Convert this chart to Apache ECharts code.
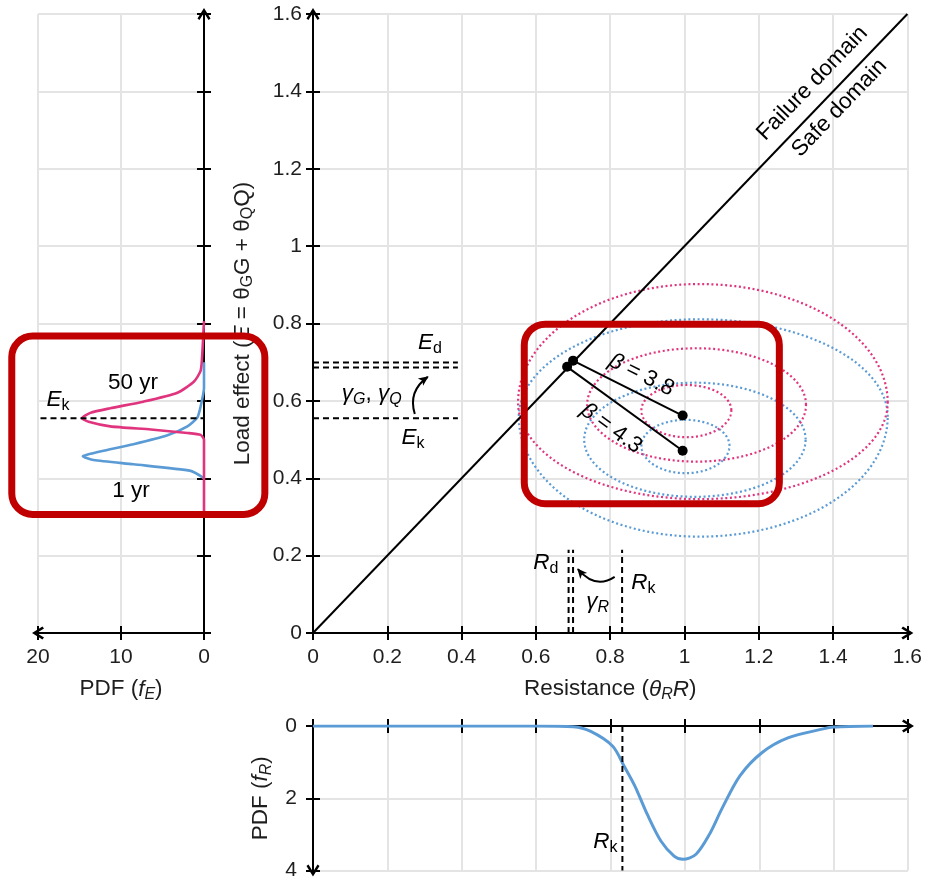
<!DOCTYPE html>
<html><head><meta charset="utf-8">
<script src="https://cdn.jsdelivr.net/npm/echarts@6/dist/echarts.min.js"></script>
<style>html,body{margin:0;padding:0;background:#fff}#c{width:925px;height:881px}</style>
</head><body><div id="c"></div>
<script>
// ---------------- DATA ----------------
const axisMax = 1.6;                 // main plot range (both axes)
const pdfEMax = 20;                  // left panel PDF range
const pdfRMax = 4;                   // bottom panel PDF range
// Load effect PDFs (left panel): [pdf, load effect]
const pdfE50yr = [[0,0.30],[0,0.499],[0.4,0.512],[2.0,0.517],[6.4,0.526],[11.3,0.534],[13.9,0.546],[14.7,0.555],[13.7,0.569],[11.3,0.581],[7.3,0.598],[3.2,0.621],[1.2,0.650],[0.4,0.678],[0.2,0.724],[0,0.806]];
const pdfE1yr  = [[0,0.40],[1.6,0.419],[8.5,0.436],[13.3,0.447],[14.6,0.457],[14.1,0.461],[12.1,0.471],[8.5,0.488],[4.4,0.511],[2.0,0.534],[0.8,0.557],[0.4,0.586],[0,0.633],[0,0.70]];
// Resistance PDF (bottom panel): [resistance, pdf]
const pdfR = [[0,0],[0.60,0],[0.70,0.02],[0.747,0.15],[0.806,0.56],[0.836,1.1],[0.865,1.65],[0.90,2.47],[0.936,3.19],[0.971,3.6],[0.995,3.69],[1.03,3.55],[1.066,3.0],[1.10,2.28],[1.148,1.38],[1.207,0.74],[1.277,0.33],[1.372,0.08],[1.40,0.03],[1.506,0]];
// Joint PDF contours: [cx, cy, rxLeft, rxRight, ryBelow, ryAbove]
const contours50yr = [[1.005,0.576,0.121,0.121,0.070,0.065],[1.032,0.590,0.294,0.295,0.147,0.146],[1.04,0.596,0.488,0.507,0.250,0.306]];
const contours1yr  = [[1.003,0.484,0.119,0.118,0.071,0.067],[1.028,0.500,0.298,0.298,0.148,0.147],[1.04,0.559,0.486,0.507,0.310,0.252]];
// Means and design points
const mean50yr = [0.995, 0.562], design50yr = [0.700, 0.704];
const mean1yr  = [0.995, 0.471], design1yr  = [0.684, 0.688];
// Characteristic / design values
const Ek = 0.555, EdLevels = [0.686, 0.699], EguideEnd = 0.39;
const Rk = 0.832, RdLevels = [0.688, 0.700], RguideEnd = 0.215;
const betaLabels = ['3.8', '4.3'];

// ---------------- STYLE ----------------
const FONT = 'Liberation Sans', TXT = '#1e1e1e', GRIDC = '#e4e4e4';
const PINK = '#E0347E', BLUE = '#5B9BD5';
const FS = 21, FT = 22.5;
const ARROW = 'path://M5,0 L10,8 L8.5,9.2 L5,3.6 L1.5,9.2 L0,8 Z';
function rich(size){
  const sub = Math.round(size*0.7);
  return {
    n:{fontFamily:FONT,fontSize:size,color:TXT,lineHeight:size+4,verticalAlign:'middle'},
    i:{fontFamily:FONT,fontSize:size,fontStyle:'italic',color:TXT,lineHeight:size+4,verticalAlign:'middle'},
    s:{fontFamily:FONT,fontSize:sub,fontStyle:'italic',color:TXT,lineHeight:sub,verticalAlign:'bottom'},
    u:{fontFamily:FONT,fontSize:sub,color:TXT,lineHeight:sub,verticalAlign:'bottom'}
  };
}
const lineBlack = {color:'#000', width:2};
function axisPair(base){
  const sym = base.inverse ? [ARROW,'none'] : ['none',ARROW];
  const main = Object.assign({type:'value'}, base, {
    axisLine:{show:true,onZero:false,lineStyle:lineBlack,symbol:sym,symbolSize:[16,12]},
    axisTick:{show:true,inside:false,length:7,lineStyle:lineBlack},
    splitLine:{show:true,lineStyle:{color:GRIDC,width:2}}
  });
  const dup = {type:'value',gridIndex:base.gridIndex,min:base.min,max:base.max,interval:base.interval,inverse:!!base.inverse,position:base.position,
    axisLine:{show:false},axisTick:{show:true,inside:true,length:7,lineStyle:lineBlack},axisLabel:{show:false},splitLine:{show:false}};
  return [main, dup];
}
const lblStyle = (margin)=>({fontFamily:FONT,fontSize:FS,color:TXT,margin:margin});

const xAxes = [].concat(
  axisPair({gridIndex:0,min:0,max:axisMax,interval:0.2,position:'bottom',axisLabel:lblStyle(14),
    name:'{n|Resistance (}{i|θ}{s|R}{i|R}{n|)}',nameLocation:'middle',nameGap:43,nameTextStyle:{rich:rich(FT)}}),
  axisPair({gridIndex:1,min:0,max:pdfEMax,interval:10,inverse:true,position:'bottom',axisLabel:lblStyle(14),
    name:'{n|PDF (}{i|f}{s|E}{n|)}',nameLocation:'middle',nameGap:43,nameTextStyle:{rich:rich(FT)}}),
  axisPair({gridIndex:2,min:0,max:axisMax,interval:0.2,position:'top',axisLabel:{show:false}})
);
const yAxes = [].concat(
  axisPair({gridIndex:0,min:0,max:axisMax,interval:0.2,position:'left',axisLabel:lblStyle(11),
    name:'{n|Load effect (}{i|E}{n| = θ}{u|G}{n|G + θ}{u|Q}{n|Q)}',nameLocation:'middle',nameGap:57,nameTextStyle:{rich:rich(FT)}}),
  axisPair({gridIndex:1,min:0,max:axisMax,interval:0.2,position:'right',axisLabel:{show:false}}),
  axisPair({gridIndex:2,min:0,max:pdfRMax,interval:2,inverse:true,position:'left',axisLabel:lblStyle(16),
    name:'{n|PDF (}{i|f}{s|R}{n|)}',nameLocation:'middle',nameGap:35,nameTextStyle:{rich:rich(FT)}})
);

function contourSeries(name, data, color){
  return {name:name,type:'custom',xAxisIndex:0,yAxisIndex:0,data:data,encode:{x:0,y:1},silent:true,z:2,
    renderItem:function(params, api){
      const cx=api.value(0), cy=api.value(1);
      const c=api.coord([cx,cy]);
      const l=api.coord([cx-api.value(2),cy])[0], r=api.coord([cx+api.value(3),cy])[0];
      const b=api.coord([cx,cy-api.value(4)])[1], t=api.coord([cx,cy+api.value(5)])[1];
      const pts=[];
      for(let k=0;k<=360;k++){
        const a=k/360*Math.PI*2, ca=Math.cos(a), sa=Math.sin(a);
        const rx = ca>=0 ? r-c[0] : c[0]-l;
        const ry = sa>=0 ? c[1]-t : b-c[1];
        pts.push([c[0]+rx*ca, c[1]-ry*sa]);
      }
      return {type:'polyline',shape:{points:pts},style:{stroke:color,fill:null,lineWidth:2.2,lineDash:[2,2.6]}};
    }};
}
function lineS(data, xi, yi, style, extra){
  return Object.assign({type:'line',xAxisIndex:xi,yAxisIndex:yi,data:data,symbol:'none',silent:true,z:3,lineStyle:style}, extra||{});
}
const dashed = {color:'#000',width:2,type:[6,4]};

const series = [
  contourSeries('1 yr contours', contours1yr, BLUE),
  contourSeries('50 yr contours', contours50yr, PINK),
  lineS([[0,0],[axisMax,axisMax]],0,0,{color:'#000',width:2}),
  lineS([design50yr, mean50yr],0,0,{color:'#000',width:2},{symbol:'circle',symbolSize:10,itemStyle:{color:'#000'},z:5}),
  lineS([design1yr, mean1yr],0,0,{color:'#000',width:2},{symbol:'circle',symbolSize:10,itemStyle:{color:'#000'},z:5}),
  lineS([[0,Ek],[EguideEnd,Ek]],0,0,dashed),
  lineS([[0,EdLevels[0]],[EguideEnd,EdLevels[0]]],0,0,dashed),
  lineS([[0,EdLevels[1]],[EguideEnd,EdLevels[1]]],0,0,dashed),
  lineS([[Rk,0],[Rk,RguideEnd]],0,0,dashed),
  lineS([[RdLevels[0],0],[RdLevels[0],RguideEnd]],0,0,dashed),
  lineS([[RdLevels[1],0],[RdLevels[1],RguideEnd]],0,0,dashed),
  // left panel
  lineS(pdfE1yr,2,2,{color:BLUE,width:2.6},{smooth:0.2}),
  lineS(pdfE50yr,2,2,{color:PINK,width:2.6},{smooth:0.2}),
  lineS([[19.7,Ek],[0,Ek]],2,2,dashed,{z:4}),
  // bottom panel
  lineS(pdfR,4,4,{color:BLUE,width:3},{smooth:0.3}),
  lineS([[Rk,0],[Rk,pdfRMax]],4,4,dashed,{z:4})
];

const chart = echarts.init(document.getElementById('c'));
chart.setOption({
  animation:false,
  textStyle:{fontFamily:FONT},
  grid:[
    {left:313,top:14,width:595,height:619,containLabel:false},
    {left:38,top:14,width:166,height:619,containLabel:false},
    {left:313,top:726,width:595,height:147,containLabel:false}
  ],
  xAxis:xAxes, yAxis:yAxes, series:series
});

// ---------------- ANNOTATIONS ----------------
const finders = [{xAxisIndex:0,yAxisIndex:0},{xAxisIndex:2,yAxisIndex:2},{xAxisIndex:4,yAxisIndex:4}];
const P = (g, pt) => chart.convertToPixel(finders[g], pt);
const R = rich(FT);
const texts = [
  [0,[0.315,0.750],'{i|E}{u|d}'],
  [0,[0.158,0.618],'{i|γ}{s|G}{n|, }{i|γ}{s|Q}'],
  [0,[0.269,0.504],'{i|E}{u|k}'],
  [0,[0.627,0.181],'{i|R}{u|d}'],
  [0,[0.766,0.080],'{i|γ}{s|R}'],
  [0,[0.889,0.129],'{i|R}{u|k}'],
  [1,[8.55,0.646],'{n|50 yr}'],
  [1,[17.6,0.602],'{i|E}{u|k}'],
  [1,[8.8,0.367],'{n|1 yr}'],
  [2,[0.786,3.21],'{i|R}{u|k}']
];
const g = [];
texts.forEach(t => {
  const p = P(t[0], t[1]);
  g.push({type:'text',x:p[0],y:p[1],z:50,style:{text:t[2],rich:R,align:'center',verticalAlign:'middle'}});
});
function rotText(g0, pos, a, b, txt){
  const p = P(g0,pos), pa = P(g0,a), pb = P(g0,b);
  const ang = -Math.atan2(pb[1]-pa[1], pb[0]-pa[0]);
  g.push({type:'text',x:p[0],y:p[1],rotation:ang,z:50,style:{text:txt,rich:R,align:'center',verticalAlign:'middle'}});
}
rotText(0,[0.884,0.667],design50yr,mean50yr,'{i|β}{n| = '+betaLabels[0]+'}');
rotText(0,[0.803,0.529],design1yr,mean1yr,'{i|β}{n| = '+betaLabels[1]+'}');
rotText(0,[1.344,1.421],[0,0],[axisMax,axisMax],'{n|Failure domain}');
rotText(0,[1.417,1.357],[0,0],[axisMax,axisMax],'{n|Safe domain}');

function curvedArrow(s, c, e){
  const ps=P(0,s), pc=P(0,c), pe=P(0,e);
  g.push({type:'bezierCurve',z:50,shape:{x1:ps[0],y1:ps[1],x2:pe[0],y2:pe[1],cpx1:pc[0],cpy1:pc[1]},style:{stroke:'#000',lineWidth:2,fill:null}});
  const dx=pe[0]-pc[0], dy=pe[1]-pc[1], L=Math.hypot(dx,dy), ux=dx/L, uy=dy/L;
  const len=9, w=4.5;
  const bx=pe[0]-ux*len, by=pe[1]-uy*len;
  g.push({type:'polygon',z:51,shape:{points:[[pe[0]+ux*1,pe[1]+uy*1],[bx-uy*w,by+ux*w],[bx+ux*2.5,by+uy*2.5],[bx+uy*w,by-ux*w]]},style:{fill:'#000'}});
}
curvedArrow([0.274,0.566],[0.255,0.625],[0.309,0.662]);
curvedArrow([0.812,0.145],[0.760,0.112],[0.713,0.165]);

function box(gi, x0, x1, y0, y1){
  const a=P(gi,[x0,y1]), b=P(gi,[x1,y0]);
  const l=Math.min(a[0],b[0]), r=Math.max(a[0],b[0]), t=Math.min(a[1],b[1]), bt=Math.max(a[1],b[1]);
  g.push({type:'rect',z:100,shape:{x:l,y:t,width:r-l,height:bt-t,r:21},style:{fill:null,stroke:'#C00000',lineWidth:7}});
}
box(1, 23.16, -7.33, 0.3066, 0.7674);
box(0, 0.5687, 1.2553, 0.334, 0.7982);

chart.setOption({graphic:g});
</script></body></html>
